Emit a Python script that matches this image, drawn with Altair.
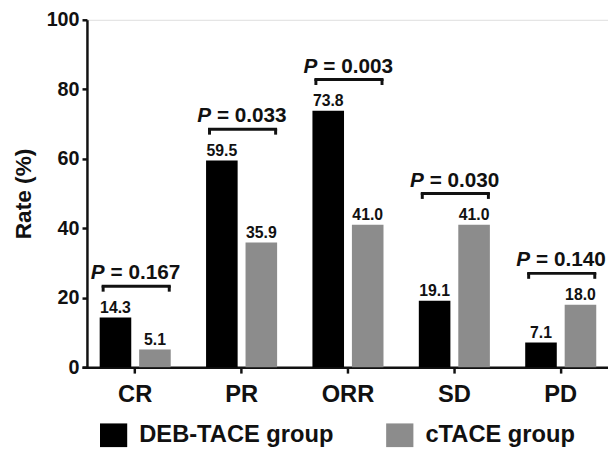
import altair as alt
import pandas as pd

categories = ["CR", "PR", "ORR", "SD", "PD"]
deb_tace = [14.3, 59.5, 73.8, 19.1, 7.1]
c_tace = [5.1, 35.9, 41.0, 41.0, 18.0]
p_values = ["0.167", "0.033", "0.003", "0.030", "0.140"]
groups = ["DEB-TACE group", "cTACE group"]
colors = ["#000000", "#8c8c8c"]
y_ticks = [0, 20, 40, 60, 80, 100]

FONT = "Liberation Sans"

rows = []
for c, a, b in zip(categories, deb_tace, c_tace):
    rows.append({"cat": c, "group": groups[0], "rate": a})
    rows.append({"cat": c, "group": groups[1], "rate": b})
bars_df = pd.DataFrame(rows)

p_df = pd.DataFrame({
    "cat": categories,
    "top": [max(a, b) + 9 for a, b in zip(deb_tace, c_tace)],
    "ptxt": ["= " + p for p in p_values],
    "pital": ["P"] * len(categories),
})

x_enc = alt.X(
    "cat:N",
    sort=categories,
    scale=alt.Scale(domain=categories, paddingInner=0, paddingOuter=0, range=[-5, 534]),
    axis=alt.Axis(
        title=None, labelAngle=0, labelFontSize=24, labelFontWeight="bold",
        labelPadding=10, tickSize=6, tickWidth=2.5, domainWidth=2.5,
        domainColor="#111", tickColor="#111", labelColor="#111", labelFont=FONT,
    ),
)
y_axis = alt.Axis(
    values=y_ticks, title="Rate (%)", titleFontSize=23, titleFontWeight="bold",
    titleFont=FONT, titleColor="#111", titlePadding=11,
    labelFontSize=20, labelFontWeight="bold", labelFont=FONT, labelColor="#111",
    labelPadding=3, tickSize=5, tickWidth=2.5, domainWidth=2.5,
    domainColor="#111", tickColor="#111", grid=False,
)
y_scale = alt.Scale(domain=[0, 100], nice=False)

color_enc = alt.Color(
    "group:N",
    scale=alt.Scale(domain=groups, range=colors),
    legend=alt.Legend(
        title=None, orient="none", legendX=15, legendY=409, direction="horizontal",
        symbolType="M-1.15,-1H1.15V1H-1.15Z", symbolSize=576, symbolStrokeWidth=0,
        labelFontSize=24, labelFontWeight="bold", labelFont=FONT, labelColor="#111",
        labelOffset=14, columnPadding=53, labelLimit=400, padding=0,
    ),
)

base_bars = alt.Chart(bars_df)
bar_deb = base_bars.transform_filter(alt.datum.group == groups[0]).mark_bar(
    width=32, xOffset=-20
).encode(x=x_enc, y=alt.Y("rate:Q", scale=y_scale, axis=y_axis), color=color_enc)
bar_c = base_bars.transform_filter(alt.datum.group == groups[1]).mark_bar(
    width=32, xOffset=20
).encode(x=x_enc, y=alt.Y("rate:Q", scale=y_scale, axis=y_axis), color=color_enc)

val_deb = base_bars.transform_filter(alt.datum.group == groups[0]).mark_text(
    xOffset=-20, dy=-5, baseline="alphabetic", fontSize=16, fontWeight="bold",
    font=FONT, color="#111",
).encode(x=x_enc, y=alt.Y("rate:Q", scale=y_scale), text=alt.Text("rate:Q", format=".1f"))
val_c = base_bars.transform_filter(alt.datum.group == groups[1]).mark_text(
    xOffset=20, dy=-5, baseline="alphabetic", fontSize=16, fontWeight="bold",
    font=FONT, color="#111",
).encode(x=x_enc, y=alt.Y("rate:Q", scale=y_scale), text=alt.Text("rate:Q", format=".1f"))

base_p = alt.Chart(p_df)
bracket = base_p.mark_tick(
    orient="horizontal", size=70, thickness=3, xOffset=1, color="#111", opacity=1
).encode(x=x_enc, y=alt.Y("top:Q", scale=y_scale))
leg_l = base_p.mark_tick(
    orient="vertical", size=6, thickness=3, xOffset=-32.5, yOffset=2.5, color="#111", opacity=1
).encode(x=x_enc, y=alt.Y("top:Q", scale=y_scale))
leg_r = base_p.mark_tick(
    orient="vertical", size=6, thickness=3, xOffset=34.5, yOffset=2.5, color="#111", opacity=1
).encode(x=x_enc, y=alt.Y("top:Q", scale=y_scale))
p_ital = base_p.mark_text(
    align="left", baseline="alphabetic", xOffset=-45, dy=-7, fontSize=21,
    fontWeight="bold", fontStyle="italic", font=FONT, color="#111",
).encode(x=x_enc, y=alt.Y("top:Q", scale=y_scale), text="pital:N")
p_txt = base_p.mark_text(
    align="left", baseline="alphabetic", xOffset=-25, dy=-7, fontSize=21,
    fontWeight="bold", font=FONT, color="#111",
).encode(x=x_enc, y=alt.Y("top:Q", scale=y_scale), text="ptxt:N")

chart = alt.layer(
    bar_deb, bar_c, val_deb, val_c, bracket, leg_l, leg_r, p_ital, p_txt
).properties(
    width=528, height=352,
    padding={"left": 80, "top": 9, "right": 0, "bottom": 83},
    autosize=alt.AutoSizeParams(type="none"),
).configure_view(stroke=None).configure(font=FONT, background="white")

chart.save("out.html", embed_options={"renderer": "svg", "actions": False})
